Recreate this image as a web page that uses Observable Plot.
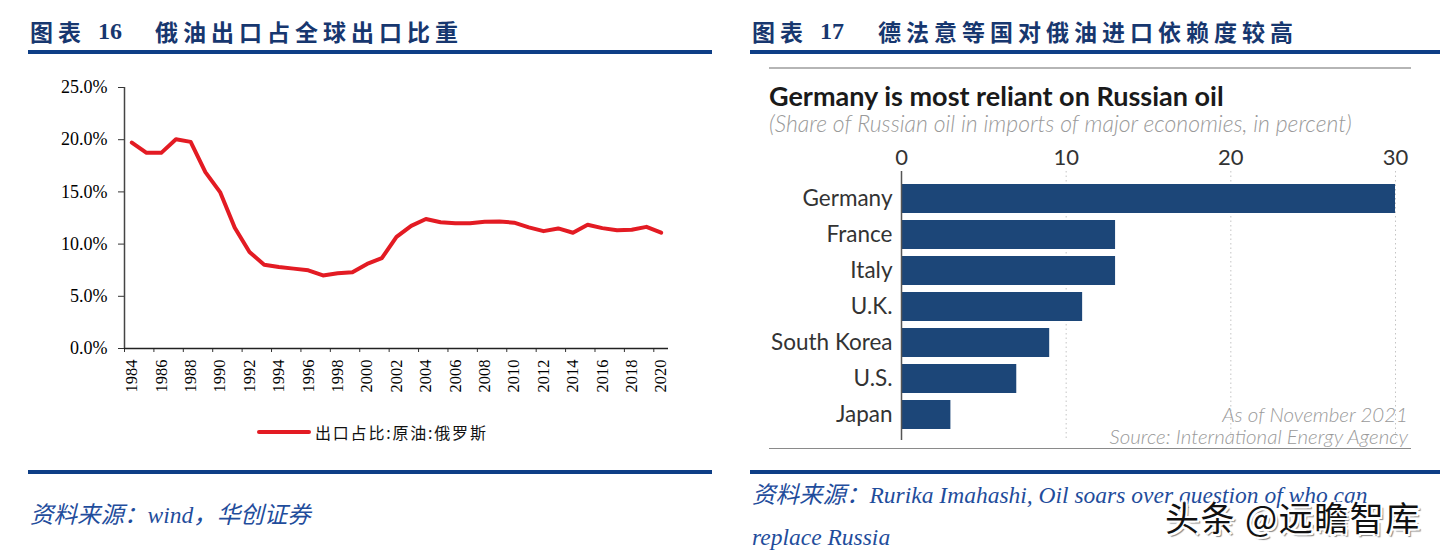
<!DOCTYPE html>
<html>
<head>
<meta charset="utf-8">
<script src="https://cdn.jsdelivr.net/npm/d3@7"></script>
<script src="https://cdn.jsdelivr.net/npm/@observablehq/plot@0.6"></script>
<style>
  html, body { margin: 0; padding: 0; background: #fff; }
  #page { position: relative; width: 1445px; height: 553px; overflow: hidden; background: #fff; }
  .abs { position: absolute; white-space: pre; }
  .ttl { font-family: "Liberation Serif", "Noto Sans CJK SC", serif; font-weight: 700; font-size: 24px; color: #17376f; line-height: 28px; }
  .ttlcn { font-family: "Noto Sans CJK SC", sans-serif; font-weight: 700; font-size: 23px; letter-spacing: 5px; color: #17376f; line-height: 28px; }
  .bar { position: absolute; height: 4px; background: #0e3e86; }
  .src { font-family: "Liberation Serif", "Noto Sans CJK SC", serif; font-style: italic; font-size: 23.5px; color: #1f4d9c; line-height: 28px; }
  .rtitle { font-family: Lato, "Open Sans", sans-serif; font-weight: 700; font-size: 27px; color: #1a1a1a; }
  .rsub { font-family: Lato, "Open Sans", sans-serif; font-style: italic; font-weight: 300; font-size: 23px; color: #9a9a9a; }
  .rnote { font-family: Lato, "Open Sans", sans-serif; font-style: italic; font-weight: 300; font-size: 20.5px; color: #9a9a9a; text-align: right; line-height: 20px; }
  svg { position: absolute; overflow: visible; }
</style>
</head>
<body>
<div id="page">
  <!-- left panel header -->
  <div class="abs ttlcn" style="left:30px; top:17px;">图表</div>
  <div class="abs ttl" style="left:98px; top:17px;">16</div>
  <div class="abs ttlcn" style="left:155px; top:17px;">俄油出口占全球出口比重</div>
  <div class="bar" style="left:28px; top:50px; width:684px;"></div>

  <!-- right panel header -->
  <div class="abs ttlcn" style="left:752px; top:17px;">图表</div>
  <div class="abs ttl" style="left:820px; top:17px;">17</div>
  <div class="abs ttlcn" style="left:878px; top:17px;">德法意等国对俄油进口依赖度较高</div>
  <div class="bar" style="left:750px; top:50px; width:690px;"></div>

  <div id="left"></div>
  <div id="right"></div>

  <!-- legend left -->
  <div class="abs" style="left:257px; top:430px; width:54px; height:4px; background:#e31b23; border-radius:2px;"></div>
  <div class="abs" id="legtext" style="left:315px; top:421px; font-family:'Noto Sans CJK SC', sans-serif; font-size:16px; letter-spacing:1.8px; color:#111; line-height:22px;"></div>

  <!-- right panel inner decorations -->
  <div class="abs" style="left:769px; top:67px; width:642px; height:2px; background:#b5b5b5;"></div>
  <div class="abs rtitle" id="rtitle" style="left:769px; top:79px;"></div>
  <div class="abs rsub" id="rsub" style="left:769px; top:109px;"></div>
  <div class="abs rnote" id="rnote1" style="left:1000px; width:408px; top:404px;"></div>
  <div class="abs rnote" id="rnote2" style="left:1000px; width:408px; top:426px;"></div>
  <div class="abs" style="left:769px; top:448px; width:642px; height:1px; background:#8a8a8a;"></div>

  <!-- bottom bars and sources -->
  <div class="bar" style="left:28px; top:470px; width:684px;"></div>
  <div class="bar" style="left:750px; top:470px; width:690px;"></div>
  <div class="abs src" style="left:30px; top:501px;">资料来源：wind，华创证券</div>
  <div class="abs src" style="left:752px; top:481px;">资料来源：Rurika Imahashi, Oil soars over question of who can</div>
  <div class="abs src" style="left:752px; top:523px;">replace Russia</div>

  <!-- watermark -->
  <div class="abs" style="left:1165px; top:496px; font-family:'Noto Sans CJK SC', sans-serif; font-size:34px; letter-spacing:1.5px; line-height:42px; color:#111; text-shadow: 2px 2px 0 #fff, -2px -2px 0 #fff, 2px -2px 0 #fff, -2px 2px 0 #fff, 3px 3px 1px #888;">头条 @远瞻智库</div>
</div>
<script>
// ---------- Left chart data: Russia crude oil share of global exports ----------
const years = [1984,1985,1986,1987,1988,1989,1990,1991,1992,1993,1994,1995,1996,1997,1998,1999,2000,2001,2002,2003,2004,2005,2006,2007,2008,2009,2010,2011,2012,2013,2014,2015,2016,2017,2018,2019,2020];
const exportShare = [19.73,18.74,18.74,20.04,19.79,16.89,14.98,11.57,9.24,8.03,7.81,7.65,7.49,7.0,7.2,7.3,8.1,8.65,10.7,11.75,12.4,12.1,12.0,12.0,12.14,12.17,12.05,11.6,11.24,11.5,11.09,11.85,11.53,11.33,11.37,11.65,11.09];
const yTickValues = [0, 5, 10, 15, 20, 25];
const xTickLabels = [1984,1986,1988,1990,1992,1994,1996,1998,2000,2002,2004,2006,2008,2010,2012,2014,2016,2018,2020];
const seriesName = "出口占比:原油:俄罗斯";

// ---------- Right chart data ----------
const countries = ["Germany","France","Italy","U.K.","South Korea","U.S.","Japan"];
const reliance = [30, 13, 13, 11, 9, 7, 3];
const relianceTicks = [0, 10, 20, 30];
const rightTitle = "Germany is most reliant on Russian oil";
const rightSubtitle = "(Share of Russian oil in imports of major economies, in percent)";
const rightNote1 = "As of November 2021";
const rightNote2 = "Source: International Energy Agency";

document.getElementById("legtext").textContent = seriesName;
document.getElementById("rtitle").textContent = rightTitle;
document.getElementById("rsub").textContent = rightSubtitle;
document.getElementById("rnote1").textContent = rightNote1;
document.getElementById("rnote2").textContent = rightNote2;

const lineData = years.map((y, i) => ({year: y, value: exportShare[i]}));

const left = Plot.plot({
  width: 660,
  height: 335,
  marginLeft: 94,
  marginRight: 22,
  marginTop: 12,
  marginBottom: 62,
  x: {domain: [years[0] - 0.5, years[years.length - 1] + 0.5]},
  y: {domain: [0, 25]},
  style: "font-family: 'Liberation Serif', serif; font-size: 18px; color: #000; background: transparent; overflow: visible;",
  marks: [
    Plot.axisY({ticks: yTickValues, tickFormat: d => d.toFixed(1) + "%", tickSize: 6, tickPadding: 11, label: null, stroke: "#333", fontSize: 18}),
    Plot.axisX({ticks: xTickLabels.map(d => d - 0.5), tickFormat: () => "", tickSize: 4, label: null, stroke: "#333"}),
    Plot.axisX({ticks: xTickLabels, tickFormat: d => String(d), tickSize: 0, tickRotate: -90, tickPadding: 11, label: null, fontSize: 16.5}),
    Plot.ruleX([years[0] - 0.5], {stroke: "#444", strokeWidth: 1.5}),
    Plot.ruleY([0], {stroke: "#222", strokeWidth: 1.5}),
    Plot.line(lineData, {x: "year", y: "value", stroke: "#e31b23", strokeWidth: 4, strokeLinejoin: "round", strokeLinecap: "round"})
  ]
});
left.style.left = "30px";
left.style.top = "75px";
document.getElementById("left").appendChild(left);

const barData = countries.map((c, i) => ({country: c, value: reliance[i]}));

const right = Plot.plot({
  width: 660,
  height: 306,
  marginLeft: 141,
  marginRight: 25,
  marginTop: 39,
  marginBottom: 12,
  x: {domain: [0, 30]},
  y: {domain: countries, padding: 0.2, paddingOuter: 0.1},
  style: {fontFamily: "Lato, 'Open Sans', sans-serif", color: "#333", background: "transparent", overflow: "visible"},
  marks: [
    Plot.ruleX(relianceTicks.slice(1), {stroke: "#c4c4c4", strokeWidth: 1, strokeDasharray: "1.5,3", insetTop: -8, insetBottom: -6}),
    Plot.barX(barData, {x: "value", y: "country", fill: "#1c4678"}),
    Plot.ruleX([0], {stroke: "#555", strokeWidth: 1.5, insetTop: -8, insetBottom: -6}),
    Plot.axisX({anchor: "top", ticks: relianceTicks, tickSize: 0, tickPadding: 15, label: null, fontSize: 22}),
    Plot.axisY({tickSize: 0, tickPadding: 9, label: null, fontSize: 22.5})
  ]
});
right.style.left = "760px";
right.style.top = "140px";
document.getElementById("right").appendChild(right);
</script>
</body>
</html>
